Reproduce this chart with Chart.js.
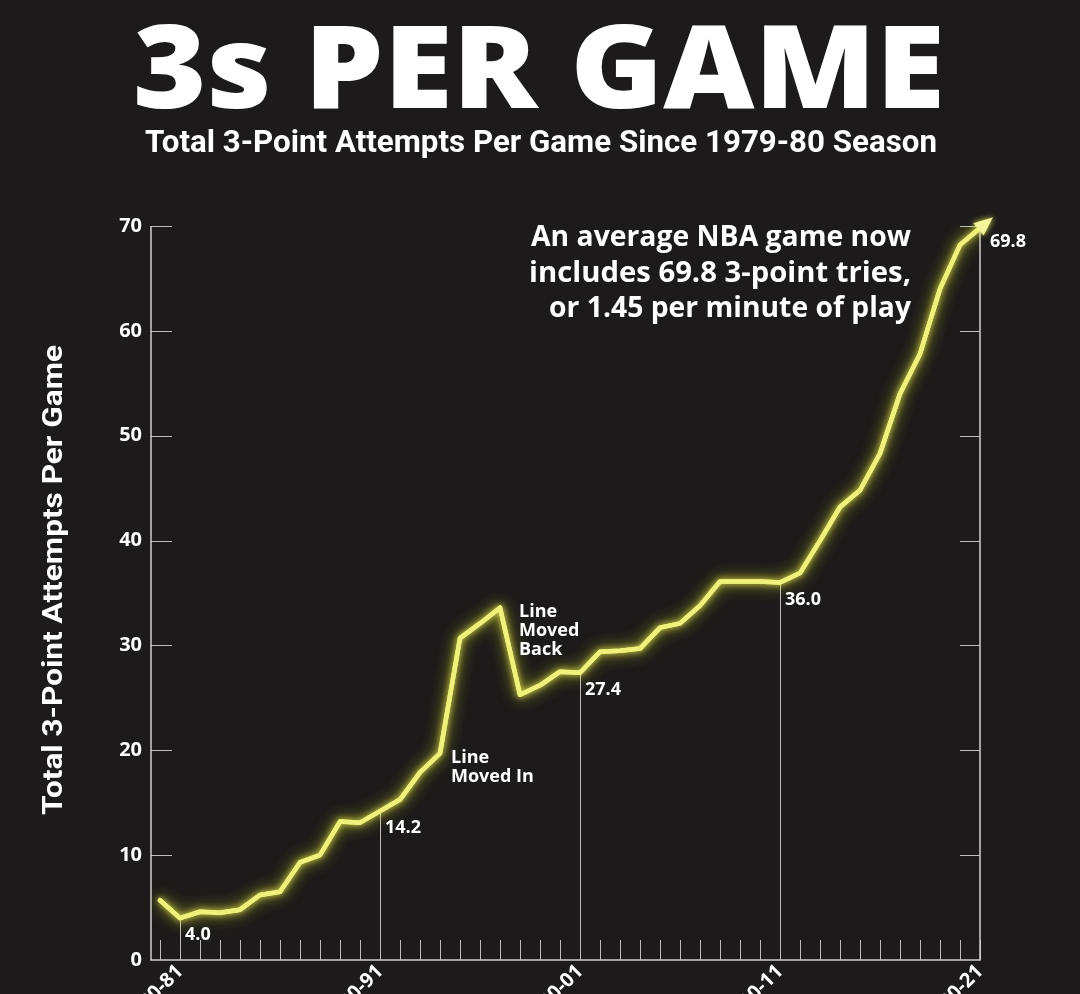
<!DOCTYPE html>
<html>
<head>
<meta charset="utf-8">
<title>3s Per Game</title>
<script src="https://cdn.jsdelivr.net/npm/chart.js@4.4.0/dist/chart.umd.min.js"></script>
<style>
  html, body { margin: 0; padding: 0; width: 1080px; height: 994px; overflow: hidden; background: #1c1a1a; }
  #chart { position: absolute; left: 0; top: 0; }
</style>
</head>
<body>
<canvas id="chart" width="1080" height="1060"></canvas>
<script>
const seasons = [
  "1979-80", "1980-81", "1981-82", "1982-83", "1983-84", "1984-85", "1985-86",
  "1986-87", "1987-88", "1988-89", "1989-90", "1990-91", "1991-92", "1992-93",
  "1993-94", "1994-95", "1995-96", "1996-97", "1997-98", "1998-99", "1999-00",
  "2000-01", "2001-02", "2002-03", "2003-04", "2004-05", "2005-06", "2006-07",
  "2007-08", "2008-09", "2009-10", "2010-11", "2011-12", "2012-13", "2013-14",
  "2014-15", "2015-16", "2016-17", "2017-18", "2018-19", "2019-20", "2020-21"
];

const attempts = [
  5.7, 4.0, 4.6, 4.5, 4.8, 6.2, 6.5, 9.3, 10.0, 13.2, 13.1,
  14.2, 15.3, 17.9, 19.7, 30.7, 32.1, 33.6, 25.3, 26.2, 27.5,
  27.4, 29.4, 29.5, 29.7, 31.7, 32.1, 33.8, 36.1, 36.1, 36.1,
  36.0, 36.9, 40.0, 43.2, 44.8, 48.3, 54.0, 57.8, 64.0, 68.2, 69.8
];

const tickSeasons = ["1980-81", "1990-91", "2000-01", "2010-11", "2020-21"];
const yTicks = [0, 10, 20, 30, 40, 50, 60, 70];

const notes = [
  { season: "1993-94", lines: ["Line", "Moved In"], dx: 11, dy: 10 },
  { season: "1996-97", lines: ["Line", "Moved", "Back"], dx: 19, dy: 9 }
];

const callout = [
  "An average NBA game now",
  "includes 69.8 3-point tries,",
  "or 1.45 per minute of play"
];

const BG = "#1c1a1a";
const AXIS = "#cfcfcf";
const FONT = '"Open Sans", "DejaVu Sans", sans-serif';

// draw text squeezed/stretched to a given width
function fitText(ctx, text, x, y, w, align) {
  const m = ctx.measureText(text).width;
  ctx.save();
  ctx.translate(x, y);
  ctx.scale(w / m, 1);
  ctx.textAlign = align;
  ctx.fillText(text, 0, 0);
  ctx.restore();
}

const pts = attempts.map((v, i) => ({ x: i, y: v }));

const decor = {
  id: "decor",
  beforeDraw(chart) {
    const ctx = chart.ctx;
    ctx.save();
    ctx.fillStyle = BG;
    ctx.fillRect(0, 0, chart.width, chart.height);
    ctx.restore();
  },
  beforeDatasetsDraw(chart) {
    const { ctx, chartArea: a, scales: { x, y } } = chart;
    const meta = chart.getDatasetMeta(0);
    ctx.save();

    // minor ticks along the bottom, one per season
    ctx.strokeStyle = "#bdbdbd";
    ctx.lineWidth = 1;
    seasons.forEach((s, i) => {
      const px = Math.round(x.getPixelForValue(i)) + 0.5;
      ctx.beginPath();
      ctx.moveTo(px, a.bottom);
      ctx.lineTo(px, a.bottom - 20);
      ctx.stroke();
    });

    // drop lines under the labelled seasons
    tickSeasons.slice(0, 4).forEach(s => {
      const i = seasons.indexOf(s);
      const p = meta.data[i];
      const px = Math.round(p.x) + 0.5;
      ctx.beginPath();
      ctx.moveTo(px, p.y);
      ctx.lineTo(px, a.bottom);
      ctx.stroke();
    });

    // y ticks inside the frame, left and right
    yTicks.slice(1).forEach(v => {
      const py = Math.round(y.getPixelForValue(v)) + 0.5;
      ctx.beginPath();
      ctx.moveTo(a.left, py);
      ctx.lineTo(a.left + 21, py);
      ctx.moveTo(a.right, py);
      ctx.lineTo(a.right - 20, py);
      ctx.stroke();
    });

    // frame: left, bottom, right
    ctx.strokeStyle = AXIS;
    ctx.lineWidth = 1.5;
    ctx.beginPath();
    ctx.moveTo(a.left, a.top);
    ctx.lineTo(a.left, a.bottom);
    ctx.lineTo(a.right, a.bottom);
    ctx.lineTo(a.right, a.top);
    ctx.stroke();
    ctx.restore();
  },
  beforeDatasetDraw(chart) {
    const ctx = chart.ctx;
    ctx.save();
    ctx.shadowColor = "rgba(236, 240, 40, 0.95)";
    ctx.shadowBlur = 16;
  },
  afterDatasetDraw(chart) {
    const ctx = chart.ctx;
    const meta = chart.getDatasetMeta(0);
    ctx.shadowBlur = 6;
    ctx.shadowColor = "rgba(245, 248, 90, 0.9)";
    meta.dataset.draw(ctx, chart.chartArea);

    // arrow head on the last season
    const n = meta.data.length;
    const p1 = meta.data[n - 2], p2 = meta.data[n - 1];
    const dx = p2.x - p1.x, dy = p2.y - p1.y;
    const len = Math.hypot(dx, dy);
    const ux = dx / len, uy = dy / len;
    const tipX = p2.x + ux * 17, tipY = p2.y + uy * 17;
    const bx = p2.x - ux * 2, by = p2.y - uy * 2;
    ctx.fillStyle = "#f4f59a";
    ctx.beginPath();
    ctx.moveTo(tipX, tipY);
    ctx.lineTo(bx - uy * 8, by + ux * 8);
    ctx.lineTo(bx + uy * 8, by - ux * 8);
    ctx.closePath();
    ctx.fill();
    ctx.restore();
  },
  afterDraw(chart) {
    const { ctx } = chart;
    const meta = chart.getDatasetMeta(0);
    ctx.save();
    ctx.fillStyle = "#ffffff";
    ctx.textBaseline = "alphabetic";

    // headline + subtitle
    ctx.font = "800 115px " + FONT;
    fitText(ctx, "3s PER GAME", 539, 108, 812, "center");
    ctx.font = '700 32px Roboto, "Open Sans", sans-serif';
    fitText(ctx, "Total 3-Point Attempts Per Game Since 1979-80 Season", 541, 152, 792, "center");

    // y axis title
    ctx.save();
    ctx.translate(62, 580);
    ctx.rotate(-Math.PI / 2);
    ctx.font = '700 28px Roboto, "Open Sans", sans-serif';
    fitText(ctx, "Total 3-Point Attempts Per Game", 0, 0, 470, "center");
    ctx.restore();

    // call-out text
    ctx.font = "700 29px " + FONT;
    [[246, 380], [282, 382], [317, 362]].forEach(([by, w], k) => {
      fitText(ctx, callout[k], 911, by, w, "right");
    });

    // value labels
    ctx.font = "700 18px " + FONT;
    ctx.textAlign = "left";
    tickSeasons.forEach((sn, k) => {
      const i = seasons.indexOf(sn);
      const p = meta.data[i];
      const last = k === tickSeasons.length - 1;
      ctx.fillText(attempts[i].toFixed(1), p.x + (last ? 10 : 5), p.y + (last ? 19 : 22));
    });

    // rule change notes
    notes.forEach(nt => {
      const p = meta.data[seasons.indexOf(nt.season)];
      nt.lines.forEach((t, k) => {
        ctx.fillText(t, p.x + nt.dx, p.y + nt.dy + k * 19);
      });
    });
    ctx.restore();
  }
};

new Chart(document.getElementById("chart"), {
  type: "line",
  data: {
    datasets: [{
      label: "3-Point Attempts Per Game",
      data: pts,
      borderColor: "#eff17c",
      borderWidth: 4.5,
      borderJoinStyle: "round",
      borderCapStyle: "round",
      pointRadius: 0,
      tension: 0,
      fill: false
    }]
  },
  options: {
    responsive: false,
    devicePixelRatio: 1,
    animation: false,
    layout: { padding: { top: 226, left: 0, right: 100, bottom: 0 } },
    plugins: {
      legend: { display: false },
      tooltip: { enabled: false }
    },
    scales: {
      x: {
        type: "linear",
        min: -0.45,
        max: seasons.length - 1,
        grid: { display: false, drawTicks: false },
        border: { display: false },
        afterBuildTicks: sc => {
          sc.ticks = tickSeasons.map(sn => ({ value: seasons.indexOf(sn) }));
        },
        afterFit: sc => { sc.height = 100; },
        ticks: {
          autoSkip: false,
          minRotation: 45,
          maxRotation: 45,
          padding: 0,
          color: "#ffffff",
          font: { family: FONT, size: 20, weight: "700" },
          callback: v => seasons[v]
        }
      },
      y: {
        min: 0,
        max: 70,
        grid: { display: false, drawTicks: false },
        border: { display: false },
        afterBuildTicks: sc => {
          sc.ticks = yTicks.map(v => ({ value: v }));
        },
        afterFit: sc => { sc.width = 151; },
        ticks: {
          padding: 9,
          color: "#ffffff",
          font: { family: FONT, size: 20, weight: "700" }
        }
      }
    }
  },
  plugins: [decor]
});
</script>
</body>
</html>
